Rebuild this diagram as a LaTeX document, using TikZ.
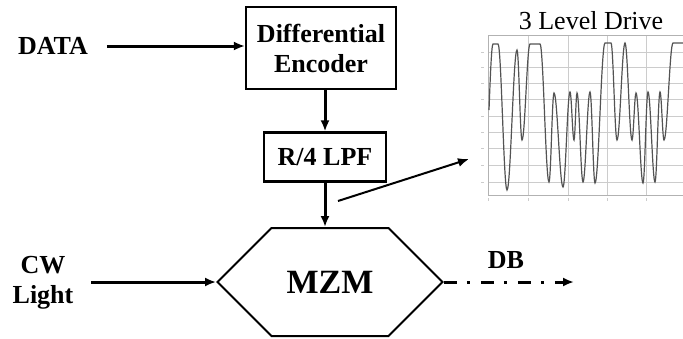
\documentclass[tikz,border=0pt]{standalone}
\usepackage{fontspec}
\setmainfont{Liberation Serif}
\usetikzlibrary{arrows.meta,shapes.symbols,calc}

\begin{document}
\begin{tikzpicture}[x=0.5pt,y=-0.5pt,>={Latex[length=5.5pt,width=4.5pt]}]
\tikzstyle{blocklabel}=[font=\fontsize{13}{15}\selectfont\bfseries,align=center]
\tikzstyle{block}=[draw,line width=1.1pt,blocklabel]
\tikzstyle{link}=[->,line width=1.5pt]
\tikzstyle{gridline}=[gray!40,line width=0.5pt]
\tikzstyle{trace}=[gray!65!black,line width=0.6pt]

\useasboundingbox (0,0) rectangle (683,338);

%% Encoder, filter and modulator
\node[block,minimum width=75pt,minimum height=41pt] (enc) at (321,48) {Differential\\Encoder};
\node[block,minimum width=61pt,minimum height=24.5pt] (lpf) at (325,157) {R/4 LPF};
\node[draw,line width=1pt,shape=signal,signal to=west and east,signal pointer angle=90,
      minimum width=112.5pt,minimum height=54pt,
      font=\fontsize{17}{20}\selectfont\bfseries] (mzm) at (330,282) {MZM};

%% Inputs
\node[blocklabel] (data) at (53,46) {DATA};
\node[blocklabel] (cw) at (43,283) {CW\\Light};
\draw[link] ([xshift=6pt]data.east) -- (enc.west |- data.east);
\draw[link] ([xshift=5.5pt]cw.east |- mzm.west) -- (mzm.west);

\draw[link] (lpf.north |- enc.south) -- (lpf.north);
\draw[link] (lpf.south) -- (lpf.south |- mzm.north);

%% Output
\coordinate (dbend) at (574,282);
\draw[link,dash pattern=on 6.5pt off 5pt on 1.5pt off 5.5pt] (mzm.east) -- (dbend);
\node[blocklabel] (db) at (506,260) {DB};

%% Drive waveform
\node[font=\fontsize{13}{15}\selectfont] (drive) at (591,21) {3 Level Drive};
\begin{scope}[gridline]
\foreach \y in {52,67,83,99,116,132,148,165,182}
    \draw (488,\y) -- (683,\y);
\foreach \x in {528,568,607,646}
    \draw (\x,35) -- (\x,195);
\foreach \y in {52,67,83,99,116,132,148,165,182}
    \draw (481,\y) -- (484,\y);
\foreach \x in {488,528,568,607,646}
    \draw (\x,198) -- (\x,201);
\end{scope}
\draw[gray!60,line width=0.5pt] (683,35) -- (488,35) -- (488,195) -- (683,195);

\draw[trace] (489,110) sin (493,44)
    \foreach \x/\y [remember=\x as \lx (initially 493),remember=\y as \ly (initially 44)] in
    {498/44,507/190,517/50,522/140,530/44,540/44,549/182,554/93,563/187,570/92,
     574/140,577/93,583/182,590/92,595/183,605/43,611/43,617/140,625/43,632/140,
     636/93,643/183,648/92,655/182,660/92,664/140,673/43,683/43}
    { cos ($(\lx,\ly)!0.5!(\x,\y)$) sin (\x,\y) };

% pointer from the filter output to the scope trace
\coordinate (tap) at (338,201);
\coordinate (scopein) at (469,159);
\draw[->,line width=1pt] (tap) -- (scopein);

\end{tikzpicture}
\end{document}
